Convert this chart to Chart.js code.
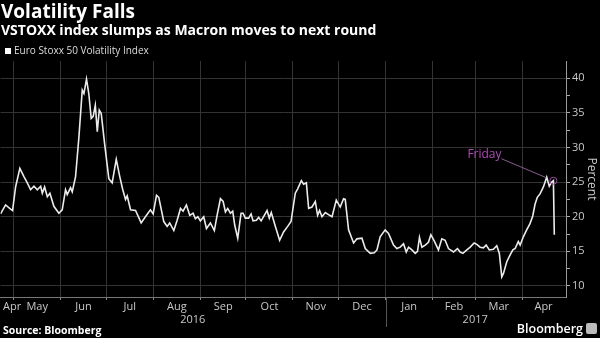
<!DOCTYPE html>
<html>
<head>
<meta charset="utf-8">
<script src="https://cdn.jsdelivr.net/npm/chart.js@4.4.1/dist/chart.umd.min.js"></script>
<style>
  html, body { margin: 0; padding: 0; background: #000; }
  #wrap { position: relative; width: 600px; height: 338px; overflow: hidden; font-family: "Open Sans", sans-serif; }
  #chart { position: absolute; left: 0; top: 0; }
  .head { position: absolute; left: 1px; color: #fff; font-weight: bold; white-space: nowrap; }
  #title { top: -2px; font-size: 19px; }
  #subtitle { top: 20px; font-size: 14px; }
  #legend { position: absolute; left: 5px; top: 43px; color: #ddd; font-size: 10px; white-space: nowrap; }
  #legend i { display: inline-block; width: 6px; height: 6px; background: #fff; margin-right: 3px; }
  #source { position: absolute; left: 3px; top: 323px; color: #fff; font-size: 10.5px; font-weight: bold; }
  #logo { position: absolute; right: 3px; top: 320px; color: #fff; font-size: 12.5px; font-weight: 600; white-space: nowrap; }
  #logo b { display: inline-block; width: 11px; height: 11px; background: #bbb; border-radius: 2px; margin-left: 3px; vertical-align: -1px; }
</style>
</head>
<body>
<div id="wrap">
  <canvas id="chart" width="600" height="338"></canvas>
  <div class="head" id="title">Volatility Falls</div>
  <div class="head" id="subtitle">VSTOXX index slumps as Macron moves to next round</div>
  <div id="legend"><i></i>Euro Stoxx 50 Volatility Index</div>
  <div id="source">Source: Bloomberg</div>
  <div id="logo">Bloomberg<b></b></div>
</div>
<script>
// days counted from 1 May 2016
const days = [
  -8.6, -5.3, -2.0, -0.7, 1.3, 4.1, 6.8, 9.0, 11.2, 13.4, 15.6, 17.8, 18.9, 20.4, 22.2,
  23.9, 26.5, 29.8, 32.0, 34.2, 35.3, 37.5, 38.6, 40.8, 43.0, 45.2, 46.3, 48.0, 49.5, 51.1,
  52.4, 53.8, 55.1, 56.4, 57.7, 59.9, 62.7, 64.9, 67.6, 69.9, 71.9, 73.7, 74.8, 77.0, 80.3,
  84.0, 86.8, 90.1, 91.9, 94.1, 95.6, 98.9, 101.1, 102.8, 105.5, 107.7, 109.9, 111.6, 113.8, 116.0,
  118.2, 119.7, 121.3,
  123.0, 125.2, 127.0, 129.6, 132.2, 134.0, 136.2, 138.0, 139.5, 141.0, 142.8, 144.3, 145.6, 147.6, 149.8,
  151.1, 152.6, 154.8, 156.4, 157.7, 159.9, 161.4, 163.0, 165.1, 166.9, 168.4, 169.7, 172.4, 175.2, 177.8,
  180.5, 182.7, 185.5, 187.0, 189.5, 191.0, 192.8, 194.3, 196.5, 198.7, 200.2, 201.5, 203.1, 205.3, 207.4,
  209.7,
  212.5, 215.1, 217.3, 218.4, 220.6, 223.9, 226.1, 229.4, 231.6, 234.9, 237.5, 239.3, 241.4, 244.7, 246.9,
  250.2, 252.4, 254.6, 256.8, 258.6, 260.1, 262.3, 264.5, 266.0, 267.3, 268.9, 271.1, 273.2, 274.8, 277.0,
  279.8, 282.0, 284.2, 286.4, 289.7, 292.3, 294.1, 295.9, 298.5, 300.7, 303.3, 305.1, 307.2, 309.4, 311.2,
  313.3, 316.0, 318.2, 319.9, 321.5, 322.6, 324.8, 327.0, 328.8, 330.3, 332.4, 333.6, 335.7, 337.9, 340.1,
  341.9, 343.4, 344.9, 346.7, 348.9, 351.1, 352.8, 354.4, 355.5, 356.1
];
const vstoxx = [
  20.4, 21.7, 21.1, 20.9, 24.3, 27.0, 25.8, 24.9, 23.9, 24.4, 23.9, 24.4, 23.4, 24.3, 22.9,
  23.4, 21.5, 20.5, 21.0, 23.9, 23.2, 24.2, 23.6, 25.8, 31.5, 38.3, 37.8, 39.9, 37.8, 34.2,
  34.5, 36.1, 32.3, 35.4, 34.9, 30.6, 25.5, 24.9, 28.3, 25.8, 23.9, 22.5, 23.0, 21.0, 20.9,
  19.1, 20.0, 21.0, 20.4, 23.1, 22.8, 19.3, 18.6, 19.1, 18.0, 19.5, 21.2, 20.8, 21.7, 20.2,
  20.5, 19.7, 20.0,
  19.4, 20.0, 18.3, 19.1, 18.0, 20.2, 22.6, 22.2, 20.7, 21.2, 20.5, 20.8, 18.8, 16.9, 20.5,
  20.5, 19.8, 19.8, 20.4, 19.4, 19.5, 19.9, 19.4, 20.2, 20.9, 19.8, 20.6, 18.6, 16.6, 17.8,
  18.6, 19.3, 23.4, 24.0, 25.2, 24.7, 24.9, 21.2, 21.4, 22.2, 20.2, 20.9, 20.0, 20.6, 20.3,
  20.0,
  22.4, 21.4, 22.6, 22.5, 18.1, 16.2, 16.8, 16.9, 15.4, 14.7, 14.8, 15.2, 17.1, 18.1, 17.6,
  15.9, 15.4, 15.6, 16.1, 14.9, 15.6, 15.2, 14.7, 15.0, 17.0, 15.6, 15.9, 16.3, 17.4, 16.5,
  15.2, 16.8, 16.6, 15.4, 14.9, 15.4, 14.9, 14.7, 15.2, 15.6, 16.2, 16.0, 15.6, 15.5, 15.9,
  15.2, 15.3, 15.8, 14.7, 11.3, 11.8, 13.5, 14.5, 15.2, 15.4, 16.4, 15.9, 17.1, 18.1, 19.0,
  20.1, 21.8, 22.8, 23.3, 24.3, 25.7, 24.4, 25.0, 25.2, 17.4
];

// month boundaries (gridlines) and label positions, same day count
const monthStarts = [0, 31, 61, 92, 123, 153, 184, 214, 245, 276, 304, 335];
const monthTicks = [-1, 15.5, 46, 76.5, 107.5, 138, 168.5, 199, 229.5, 260.5, 290, 319.5, 349];
const monthLabels = ['Apr', 'May', 'Jun', 'Jul', 'Aug', 'Sep', 'Oct', 'Nov', 'Dec', 'Jan', 'Feb', 'Mar', 'Apr'];
const yearTicks = [118, 304];
const yearLabels = ['2016', '2017'];
const yearBreak = 245;
const percentTicks = [10, 15, 20, 25, 30, 35, 40];
const fridayNote = 'Friday';

const X_MIN = -8.6, X_MAX = 363.8;
const tickFont = { family: 'Open Sans', size: 11 };
const tickColor = '#c8c8c8';
const gridColor = '#333';

const notePlugin = {
  id: 'notes',
  afterDatasetsDraw(chart) {
    const { ctx, chartArea, scales } = chart;
    const xs = scales.x, ys = scales.y;

    // 2016 / 2017 divider under the axis
    const bx = Math.round(xs.getPixelForValue(yearBreak)) + 0.5;
    ctx.save();
    ctx.strokeStyle = '#555';
    ctx.lineWidth = 1;
    ctx.beginPath();
    ctx.moveTo(bx, chartArea.bottom);
    ctx.lineTo(bx, chartArea.bottom + 30);
    ctx.stroke();

    // Friday callout
    const i = vstoxx.length - 2;
    const px = xs.getPixelForValue(days[i]);
    const py = ys.getPixelForValue(vstoxx[i]);
    ctx.strokeStyle = '#8a5a8e';
    ctx.beginPath();
    ctx.moveTo(px - 52, py - 22);
    ctx.lineTo(px - 7, py - 3);
    ctx.stroke();
    ctx.strokeStyle = '#a048a8';
    ctx.beginPath();
    ctx.arc(px, py, 3.5, 0, Math.PI * 2);
    ctx.stroke();
    ctx.fillStyle = '#b04cb8';
    ctx.font = '12px "Open Sans"';
    ctx.textBaseline = 'alphabetic';
    ctx.fillText(fridayNote, px - 86, py - 23);
    ctx.restore();
  }
};

new Chart(document.getElementById('chart'), {
  type: 'line',
  data: {
    datasets: [{
      label: 'Euro Stoxx 50 Volatility Index',
      data: days.map((d, i) => ({ x: d, y: vstoxx[i] })),
      borderColor: '#ececec',
      borderWidth: 1.6,
      pointRadius: 0,
      tension: 0
    }]
  },
  options: {
    responsive: false,
    animation: false,
    devicePixelRatio: 1,
    layout: { padding: { top: 61, left: 0, right: 0, bottom: 0 } },
    plugins: { legend: { display: false }, tooltip: { enabled: false } },
    scales: {
      x: {
        type: 'linear', position: 'bottom', weight: 0,
        min: X_MIN, max: X_MAX,
        afterBuildTicks: s => { s.ticks = monthStarts.map(v => ({ value: v })); },
        afterFit: s => { s.height = 0; },
        ticks: { display: false },
        grid: { color: gridColor, tickColor: '#888', tickLength: 3 },
        border: { display: true, color: '#777' }
      },
      xm: {
        type: 'linear', position: 'bottom', weight: 1,
        min: X_MIN, max: X_MAX,
        afterBuildTicks: s => { s.ticks = monthTicks.map(v => ({ value: v })); },
        afterFit: s => { s.height = 16; },
        ticks: {
          autoSkip: false, maxRotation: 0, padding: 3,
          color: tickColor, font: tickFont,
          callback: (v, i) => monthLabels[i]
        },
        grid: { display: false, drawTicks: false },
        border: { display: false }
      },
      xy: {
        type: 'linear', position: 'bottom', weight: 2,
        min: X_MIN, max: X_MAX,
        afterBuildTicks: s => { s.ticks = yearTicks.map(v => ({ value: v })); },
        afterFit: s => { s.height = 25; },
        ticks: {
          autoSkip: false, maxRotation: 0, padding: 0,
          color: tickColor, font: tickFont,
          callback: (v, i) => yearLabels[i]
        },
        grid: { display: false, drawTicks: false },
        border: { display: false }
      },
      y: {
        type: 'linear', position: 'right',
        min: 8.4, max: 42.5,
        afterBuildTicks: s => {
          const t = [];
          percentTicks.forEach((v, i) => {
            t.push({ value: v });
            if (i < percentTicks.length - 1) t.push({ value: (v + percentTicks[i + 1]) / 2 });
          });
          s.ticks = t;
        },
        afterFit: s => { s.width = 34; },
        ticks: {
          autoSkip: false, padding: 2,
          color: tickColor, font: tickFont,
          callback: v => percentTicks.includes(v) ? v : ''
        },
        grid: {
          color: c => (c.tick && percentTicks.includes(c.tick.value)) ? gridColor : 'transparent',
          tickColor: '#aaa', tickLength: 4
        },
        border: { display: true, color: '#999' },
        title: {
          display: true, text: 'Percent', color: tickColor,
          font: { family: 'Open Sans', size: 12 }, padding: { top: 1, bottom: 0 }
        }
      }
    }
  },
  plugins: [notePlugin]
});
</script>
</body>
</html>
